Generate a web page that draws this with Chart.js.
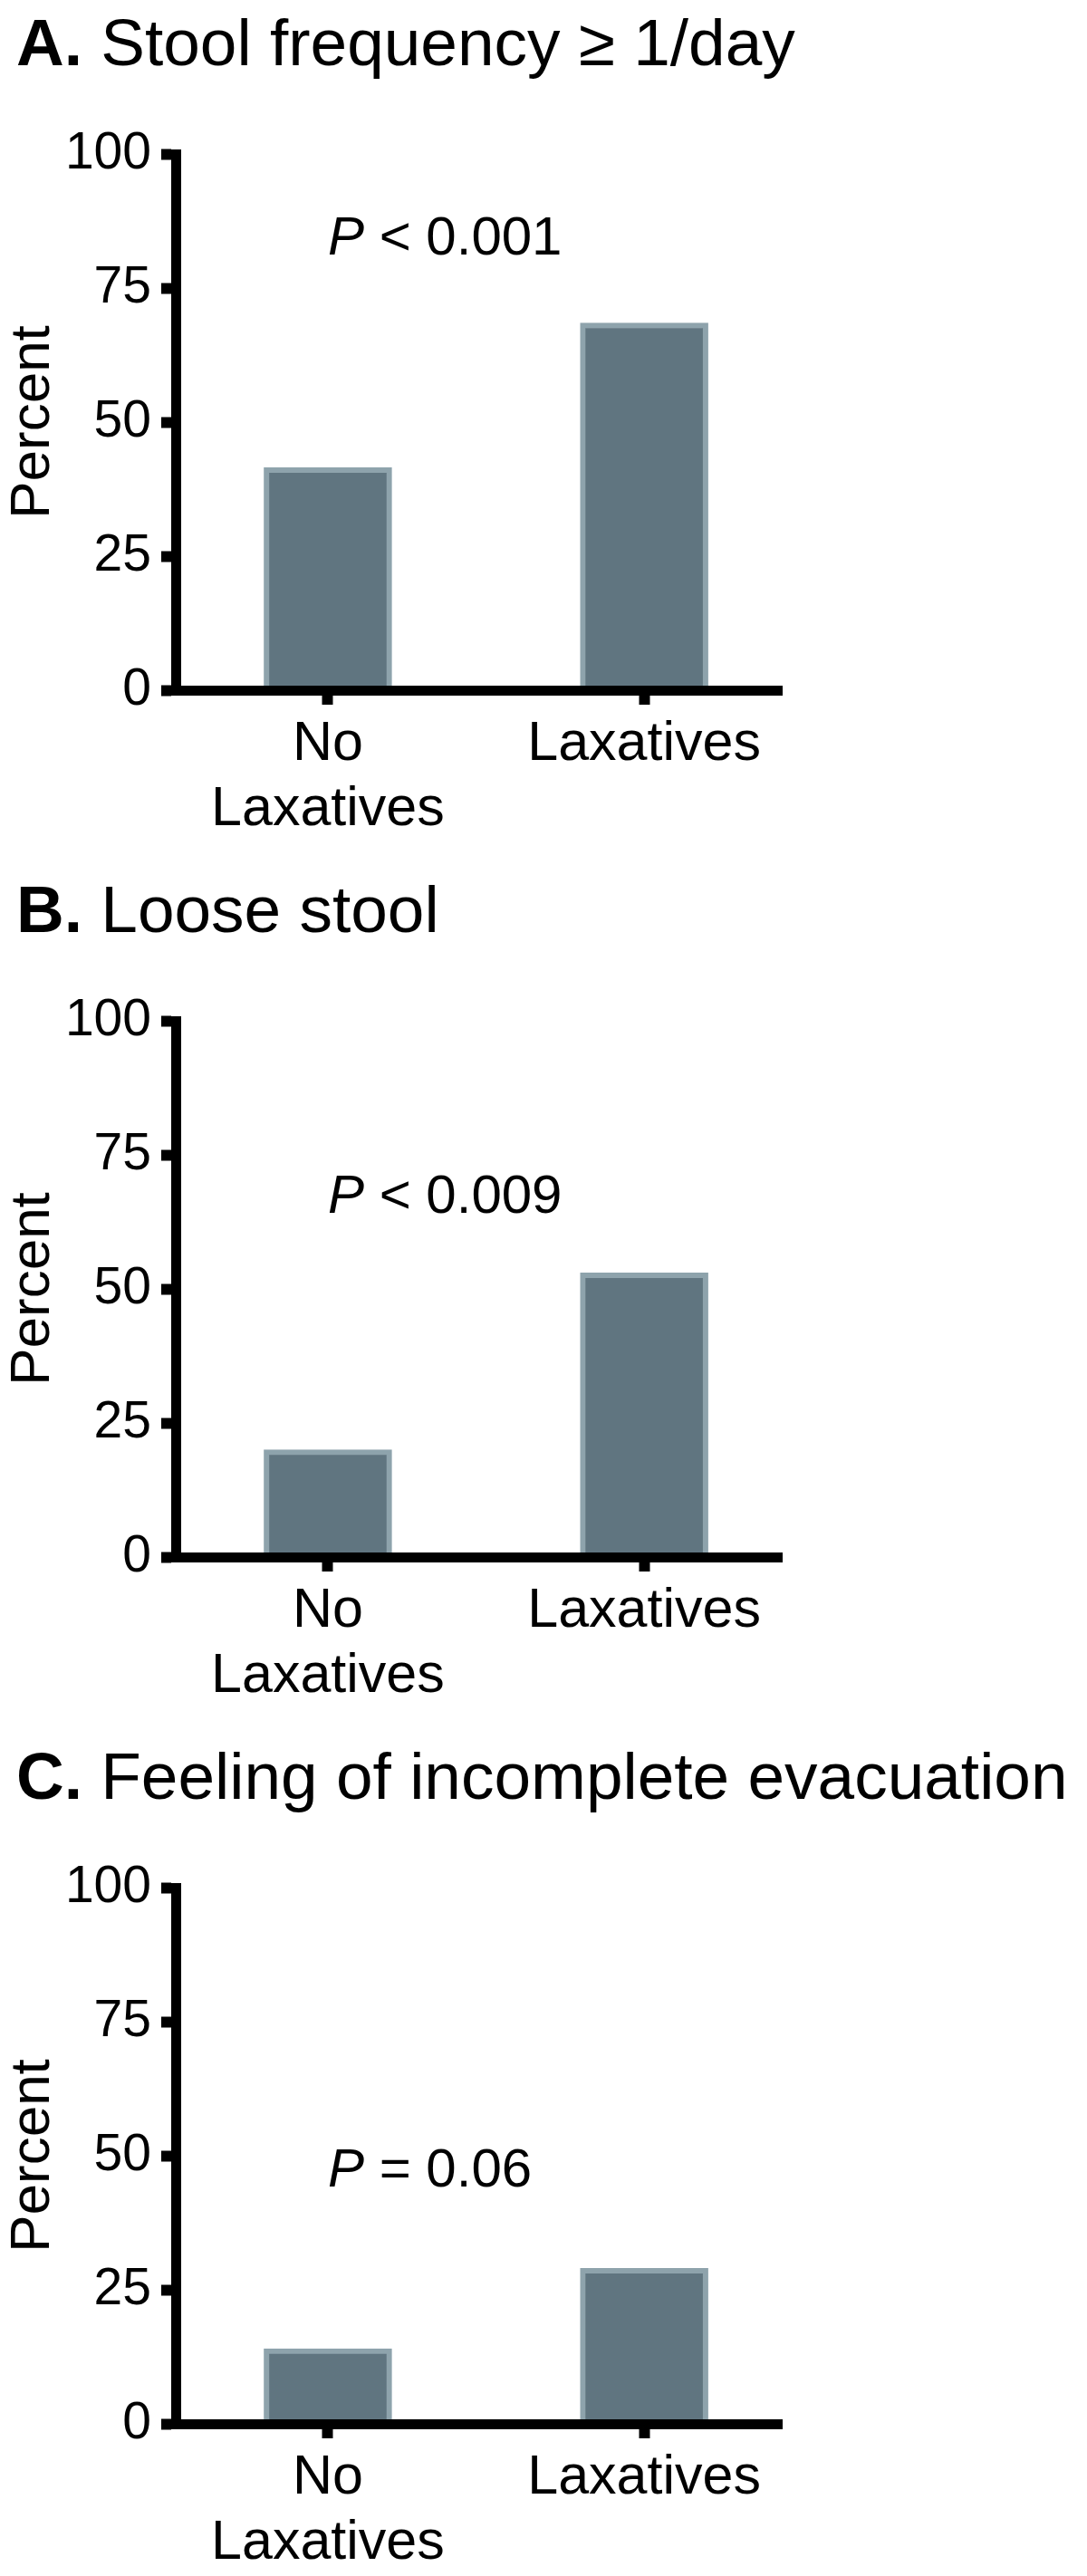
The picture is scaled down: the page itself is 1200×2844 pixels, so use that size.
<!DOCTYPE html>
<html>
<head>
<meta charset="utf-8">
<script src="https://cdn.jsdelivr.net/npm/chart.js@4.4.1/dist/chart.umd.min.js"></script>
<style>
    body {
        margin: 0;
        width: 1200px;
        height: 2844px;
        overflow: hidden;
        background: #fff;
        font-family: "Liberation Sans", Arial, Helvetica, sans-serif;
    }
    .panel {
        position: absolute;
        left: 0;
        width: 1200px;
        height: 957px;
    }
    .panel h2 {
        position: absolute;
        left: 18px;
        top: 11px;
        margin: 0;
        font-size: 73px;
        line-height: 72px;
        font-weight: normal;
        white-space: nowrap;
        color: #000;
    }
    .panel canvas {
        position: absolute;
        left: 0;
        top: 0;
    }
</style>
</head>
<body>
<div class="panel" style="top:0px">
    <h2><b>A.</b> Stool frequency &ge; 1/day</h2>
    <canvas id="chart-a" width="1200" height="930"></canvas>
</div>
<div class="panel" style="top:957px">
    <h2><b>B.</b> Loose stool</h2>
    <canvas id="chart-b" width="1200" height="930"></canvas>
</div>
<div class="panel" style="top:1914px">
    <h2><b>C.</b> Feeling of incomplete evacuation</h2>
    <canvas id="chart-c" width="1200" height="930"></canvas>
</div>

<script>
// data (percent of patients)
const groups = [['No', 'Laxatives'], 'Laxatives'];
const yTicks = [0, 25, 50, 75, 100];
const stoolFrequency = [41.5, 68.5];
const looseStool = [20, 53];
const incompleteEvacuation = [14, 29];
const pValues = ['< 0.001', '< 0.009', '= 0.06'];

const FONT = '"Liberation Sans", Arial, Helvetica, sans-serif';
const BAR_FILL = '#607580';
const BAR_EDGE = '#8ea3ac';

// draws the italic P followed by the comparison, starting over the first group
const pValuePlugin = {
    id: 'pValue',
    afterDatasetsDraw(chart, args, opts) {
        const ctx = chart.ctx;
        const x = chart.scales.x.getPixelForValue(0);
        const y = chart.scales.y.getPixelForValue(opts.at);
        ctx.save();
        ctx.fillStyle = '#000';
        ctx.textAlign = 'left';
        ctx.textBaseline = 'middle';
        ctx.font = 'italic 60px ' + FONT;
        ctx.fillText('P', x, y);
        const w = ctx.measureText('P').width;
        ctx.font = '60px ' + FONT;
        ctx.fillText(' ' + opts.text, x + w, y);
        ctx.restore();
    }
};

function makeChart(canvasId, values, pText, pAt) {
    const ctx = document.getElementById(canvasId).getContext('2d');
    new Chart(ctx, {
        type: 'bar',
        data: {
            datasets: [{
                data: values.map((v, i) => ({ x: i, y: v })),
                backgroundColor: BAR_FILL,
                borderColor: BAR_EDGE,
                borderWidth: 6,
                barThickness: 141
            }]
        },
        plugins: [pValuePlugin],
        options: {
            responsive: false,
            animation: false,
            layout: {
                padding: { top: 170, right: 337, bottom: 18, left: 0 }
            },
            plugins: {
                legend: { display: false },
                tooltip: { enabled: false },
                pValue: { text: pText, at: pAt }
            },
            scales: {
                x: {
                    type: 'linear',
                    offset: false,
                    min: -0.481,
                    max: 1.435,
                    afterBuildTicks: scale => {
                        scale.ticks = groups.map((g, i) => ({ value: i }));
                    },
                    afterFit: scale => { scale.height = 150; },
                    grid: {
                        offset: false,
                        drawOnChartArea: false,
                        tickLength: 16,
                        tickWidth: 12,
                        tickColor: '#000'
                    },
                    border: { display: true, color: '#000', width: 11, z: 1 },
                    ticks: {
                        callback: value => groups[value],
                        color: '#000',
                        padding: 8,
                        maxRotation: 0,
                        minRotation: 0,
                        autoSkip: false,
                        font: { family: FONT, size: 61, lineHeight: 1.18 }
                    }
                },
                y: {
                    min: 0,
                    max: 100,
                    afterBuildTicks: scale => {
                        scale.ticks = yTicks.map(v => ({ value: v }));
                    },
                    afterFit: scale => { scale.width = 194; },
                    grid: {
                        drawOnChartArea: false,
                        tickLength: 16,
                        tickWidth: 12,
                        tickColor: '#000'
                    },
                    border: { display: true, color: '#000', width: 11, z: 1 },
                    ticks: {
                        color: '#000',
                        padding: 11,
                        font: { family: FONT, size: 57 }
                    },
                    title: {
                        display: true,
                        text: 'Percent',
                        color: '#000',
                        padding: 0,
                        font: { family: FONT, size: 62, lineHeight: 1.2 }
                    }
                }
            }
        }
    });
}

document.addEventListener('DOMContentLoaded', () => {
    makeChart('chart-a', stoolFrequency, pValues[0], 84);
    makeChart('chart-b', looseStool, pValues[1], 67);
    makeChart('chart-c', incompleteEvacuation, pValues[2], 47);
});
</script>
</body>
</html>
